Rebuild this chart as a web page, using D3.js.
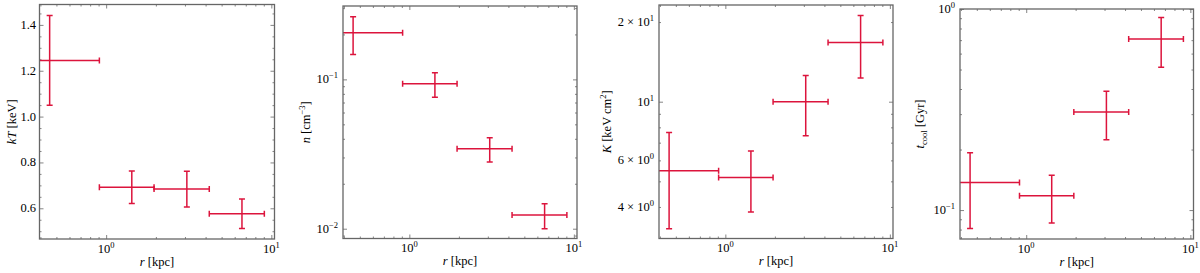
<!DOCTYPE html>
<head>
  <meta charset="utf-8">
  <script src="https://d3js.org/d3.v7.min.js"></script>
  <style>
    body { margin:0; background:#fff; }
    text { font-family: 'Liberation Serif', 'Times New Roman', Times, 'DejaVu Serif', serif; }
  </style>
</head>
<body>
<script>
// radial bins (kpc): centre and half width
var rMid = [0.455, 1.43, 3.08, 6.64];
var rErr = [0.455, 0.52, 1.13, 2.43];

// profiles
var kT = [1.245, 0.692, 0.684, 0.576];
var kTErr = [0.196, 0.071, 0.078, 0.064];
var nDens = [0.205, 0.0934, 0.0343, 0.01235];
var nErr = [0.058, 0.0175, 0.0063, 0.00235];
var entK = [5.48, 5.17, 10.0, 16.73];
var entKErr = [2.17, 1.34, 2.57, 4.45];
var tCool = [0.137, 0.1177, 0.307, 0.71];
var tCoolErr = [0.056, 0.0315, 0.083, 0.197];

// tick labels
var xTicks = [1, 10];
var xTickLabels = ["10^0", "10^1"];
var kTTicks = [0.6, 0.8, 1.0, 1.2, 1.4];
var kTTickLabels = ["0.6", "0.8", "1.0", "1.2", "1.4"];
var nTicks = [0.01, 0.1];
var nTickLabels = ["10^\u22122", "10^\u22121"];
var kTicks = [4, 6, 10, 20];
var kTickLabels = ["4 \u00d7 10^0", "6 \u00d7 10^0", "10^1", "2 \u00d7 10^1"];
var tTicks = [0.1, 1];
var tTickLabels = ["10^\u22121", "10^0"];

var width = 1200, height = 273;
var red = "crimson", frameCol = "#666";
var serif = "'Liberation Serif', 'Times New Roman', Times, 'DejaVu Serif', serif";

var svg = d3.select("body").append("svg")
  .attr("width", width)
  .attr("height", height)
  .attr("font-family", serif);

var xDomain = [0.395, 10.45];

var panels = [
  {frame: [39.5, 274.5, 4.5, 239], ylx: 15.5, log: false, yDomain: [0.466, 1.489],
   y: kT, yErr: kTErr, ticks: kTTicks, labels: kTTickLabels, pad: 3.5,
   ylabel: [{t: "kT", i: true}, {t: " [keV]"}]},
  {frame: [343, 577, 6, 238.5], ylx: 310, log: true, yDomain: [0.0086, 0.31],
   y: nDens, yErr: nErr, ticks: nTicks, labels: nTickLabels, pad: 5,
   ylabel: [{t: "n", i: true}, {t: " [cm"}, {t: "\u22123", sup: true}, {t: "]"}]},
  {frame: [659, 893, 5, 238.5], ylx: 611, log: true, yDomain: [3.04, 23.2],
   y: entK, yErr: entKErr, ticks: kTicks, labels: kTickLabels, pad: 5,
   ylabel: [{t: "K", i: true}, {t: " [keV cm"}, {t: "2", sup: true}, {t: "]"}]},
  {frame: [960, 1193.5, 9, 239], ylx: 924, log: true, yDomain: [0.0718, 1.0],
   y: tCool, yErr: tCoolErr, ticks: tTicks, labels: tTickLabels, pad: 5,
   ylabel: [{t: "t", i: true}, {t: "cool", sub: true}, {t: " [Gyr]"}]}
];

// write "a^b" style strings as text with a superscript
function mathText(sel, str) {
  var parts = str.split("^");
  sel.append("tspan").text(parts[0]);
  if (parts.length > 1) {
    sel.append("tspan").attr("dy", -5).attr("font-size", 8.5).text(parts[1]);
  }
}

function richText(sel, segs) {
  var shift = 0;
  segs.forEach(function(s) {
    var ts = sel.append("tspan").text(s.t);
    var want = s.sup ? -5 : (s.sub ? 3 : 0);
    if (want !== shift) ts.attr("dy", want - shift);
    shift = want;
    if (s.i) ts.attr("font-style", "italic");
    if (s.sup || s.sub) ts.attr("font-size", 8.5);
  });
}

function isDecade(v) {
  var l = Math.log10(v);
  return Math.abs(l - Math.round(l)) < 1e-9;
}

panels.forEach(function(p, k) {
  var x0 = p.frame[0], x1 = p.frame[1], y0 = p.frame[2], y1 = p.frame[3];

  var x = d3.scaleLog().domain(xDomain).range([x0, x1]);
  var y = (p.log ? d3.scaleLog() : d3.scaleLinear()).domain(p.yDomain).range([y1, y0]);

  var g = svg.append("g");

  // ticks (inward on all four sides)
  var xAll = x.ticks();
  var xMaj = xAll.filter(isDecade), xMin = xAll.filter(function(v) { return !isDecade(v); });
  var yMaj, yMin;
  if (p.log) {
    var yAll = y.ticks();
    yMaj = yAll.filter(isDecade);
    yMin = yAll.filter(function(v) { return !isDecade(v); });
  } else {
    yMaj = p.ticks;
    yMin = y.ticks(20).filter(function(v) {
      return !p.ticks.some(function(t) { return Math.abs(t - v) < 1e-9; });
    });
  }

  function addAxis(axis, tx, ty, vals, len) {
    var a = g.append("g")
      .attr("transform", "translate(" + tx + "," + ty + ")")
      .call(axis.tickValues(vals).tickSize(-len).tickFormat(""));
    a.select(".domain").remove();
    a.selectAll("line").attr("stroke", frameCol).attr("stroke-width", 0.8);
  }
  addAxis(d3.axisBottom(x), 0, y1, xMaj, 4);
  addAxis(d3.axisBottom(x), 0, y1, xMin, 2);
  addAxis(d3.axisTop(x), 0, y0, xMaj, 4);
  addAxis(d3.axisTop(x), 0, y0, xMin, 2);
  addAxis(d3.axisLeft(y), x0, 0, yMaj, 4);
  addAxis(d3.axisLeft(y), x0, 0, yMin, 2);
  addAxis(d3.axisRight(y), x1, 0, yMaj, 4);
  addAxis(d3.axisRight(y), x1, 0, yMin, 2);

  // error bars, clipped to the frame
  var clipId = "clip" + k;
  svg.append("clipPath").attr("id", clipId)
    .append("rect").attr("x", x0).attr("y", y0)
    .attr("width", x1 - x0).attr("height", y1 - y0);

  var eb = svg.append("g")
    .attr("clip-path", "url(#" + clipId + ")")
    .attr("stroke", red).attr("stroke-width", 1.5).attr("fill", "none");

  var cap = 3;
  rMid.forEach(function(r, i) {
    var lo = r - rErr[i], hi = r + rErr[i];
    var xl = lo > 0 ? x(lo) : x0 - 50;
    var xh = x(hi), xc = x(r);
    var yc = y(p.y[i]), yt = y(p.y[i] + p.yErr[i]), yb = y(p.y[i] - p.yErr[i]);
    eb.append("line").attr("x1", xl).attr("x2", xh).attr("y1", yc).attr("y2", yc);
    eb.append("line").attr("x1", xc).attr("x2", xc).attr("y1", yt).attr("y2", yb);
    [xl, xh].forEach(function(cx) {
      eb.append("line").attr("x1", cx).attr("x2", cx).attr("y1", yc - cap).attr("y2", yc + cap);
    });
    [yt, yb].forEach(function(cy) {
      eb.append("line").attr("x1", xc - cap).attr("x2", xc + cap).attr("y1", cy).attr("y2", cy);
    });
  });

  // frame
  svg.append("rect")
    .attr("x", x0).attr("y", y0)
    .attr("width", x1 - x0).attr("height", y1 - y0)
    .attr("fill", "none").attr("stroke", frameCol).attr("stroke-width", 1.3);

  // x tick labels
  xTicks.forEach(function(v, i) {
    var t = svg.append("text")
      .attr("x", x(v)).attr("y", y1 + 13.5)
      .attr("font-family", serif)
      .attr("text-anchor", "middle").attr("font-size", 12.5);
    mathText(t, xTickLabels[i]);
  });

  // y tick labels
  p.ticks.forEach(function(v, i) {
    var t = svg.append("text")
      .attr("x", x0 - p.pad).attr("y", y(v) + 4)
      .attr("font-family", serif)
      .attr("text-anchor", "end").attr("font-size", 12.5);
    mathText(t, p.labels[i]);
  });

  // axis titles
  var xl = svg.append("text")
    .attr("x", (x0 + x1) / 2).attr("y", y1 + 26.5)
    .attr("font-family", serif)
    .attr("text-anchor", "middle").attr("font-size", 12.5);
  richText(xl, [{t: "r", i: true}, {t: " [kpc]"}]);

  var yl = svg.append("text")
    .attr("transform", "translate(" + p.ylx + "," + ((y0 + y1) / 2) + ") rotate(-90)")
    .attr("font-family", serif)
    .attr("text-anchor", "middle").attr("font-size", 12.5);
  richText(yl, p.ylabel);
});
</script>
</body>
